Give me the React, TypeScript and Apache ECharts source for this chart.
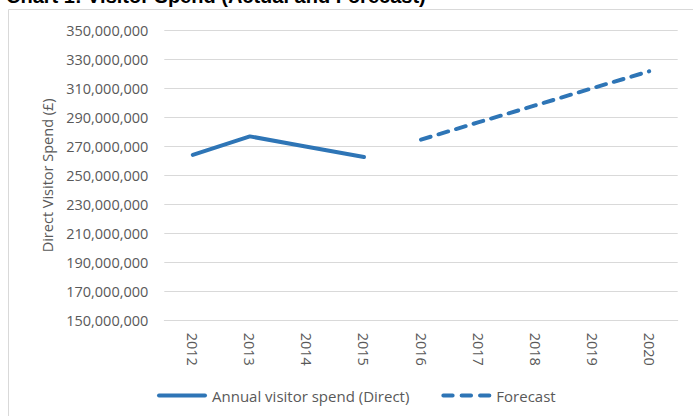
import React, { useEffect, useRef } from "react";
import * as echarts from "echarts";

const years = ["2012", "2013", "2014", "2015", "2016", "2017", "2018", "2019", "2020"];
const actualSpend = [264100000, 276800000, 269700000, 262600000, null, null, null, null, null];
const forecastSpend = [null, null, null, null, 274600000, 286400000, 298100000, 309900000, 321600000];
const seriesNames = ["Annual visitor spend (Direct)", "Forecast"];
const titleText = "Chart 1: Visitor Spend (Actual and Forecast)";
const yAxisName = "Direct Visitor Spend (£)";

const FONT = "Open Sans";
const GRAY = "#595959";
const BLUE = "#2E75B6";

const solidIcon = "path://M2,0H48A2,2 0 0 1 48,4H2A2,2 0 0 1 2,0Z";
const dashIcon =
  "path://M2,0H11.3A2,2 0 0 1 11.3,4H2A2,2 0 0 1 2,0Z" +
  "M20.3,0H29.7A2,2 0 0 1 29.7,4H20.3A2,2 0 0 1 20.3,0Z" +
  "M38.7,0H48A2,2 0 0 1 48,4H38.7A2,2 0 0 1 38.7,0Z";

export default function App() {
  const ref = useRef<HTMLDivElement>(null);
  useEffect(() => {
    if (!ref.current) return;
    const chart = echarts.init(ref.current, null, { renderer: "svg" });
    chart.setOption({
      animation: false,
      backgroundColor: "#ffffff",
      graphic: [
        {
          type: "rect",
          shape: { x: 8.5, y: 9.5, width: 720, height: 440 },
          style: { fill: "none", stroke: "#d9d9d9", lineWidth: 1 },
          z: -1,
        },
        {
          type: "text",
          x: 6,
          y: -4,
          style: {
            text: titleText,
            font: "bold 20px 'Liberation Sans', Arial",
            fill: "#000000",
            verticalAlign: "middle",
            align: "left",
          },
        },
      ],
      grid: { left: 164.3, right: 15.3, top: 30, bottom: 95.3 },
      legend: {
        left: 157,
        top: 388,
        padding: 0,
        itemWidth: 50,
        itemHeight: 4,
        itemGap: 32,
        symbolKeepAspect: false,
        textStyle: { color: GRAY, fontFamily: FONT, fontSize: 15 },
        data: [
          { name: seriesNames[0], icon: solidIcon, itemStyle: { color: BLUE } },
          { name: seriesNames[1], icon: dashIcon, itemStyle: { color: BLUE } },
        ],
      },
      xAxis: {
        type: "category",
        data: years,
        boundaryGap: true,
        axisLine: { show: true, lineStyle: { color: "#d9d9d9", width: 1 } },
        axisTick: { show: false },
        axisLabel: { rotate: -90, margin: 12, color: GRAY, fontFamily: FONT, fontSize: 14.5 },
        splitLine: { show: false },
      },
      yAxis: {
        type: "value",
        min: 150000000,
        max: 350000000,
        interval: 20000000,
        name: yAxisName,
        nameLocation: "middle",
        nameRotate: 90,
        nameGap: 107,
        nameTextStyle: { color: GRAY, fontFamily: FONT, fontSize: 14.5 },
        axisLine: { show: false },
        axisTick: { show: false },
        axisLabel: {
          margin: 16,
          color: GRAY,
          fontFamily: FONT,
          fontSize: 14.5,
          formatter: (v: number) => v.toLocaleString("en-US"),
        },
        splitLine: { lineStyle: { color: "#d9d9d9", width: 1 } },
      },
      series: [
        {
          name: seriesNames[0],
          type: "line",
          data: actualSpend,
          symbol: "none",
          connectNulls: false,
          lineStyle: { color: BLUE, width: 4, cap: "round", join: "round" },
          itemStyle: { color: BLUE },
        },
        {
          name: seriesNames[1],
          type: "line",
          data: forecastSpend,
          symbol: "none",
          connectNulls: false,
          lineStyle: { color: BLUE, width: 4, type: [10, 8.3], cap: "round", join: "round" },
          itemStyle: { color: BLUE },
        },
      ],
    });
    return () => chart.dispose();
  }, []);
  return (
    <div
      ref={ref}
      style={{ position: "absolute", left: 0, top: 0, width: 693, height: 416 }}
    />
  );
}
